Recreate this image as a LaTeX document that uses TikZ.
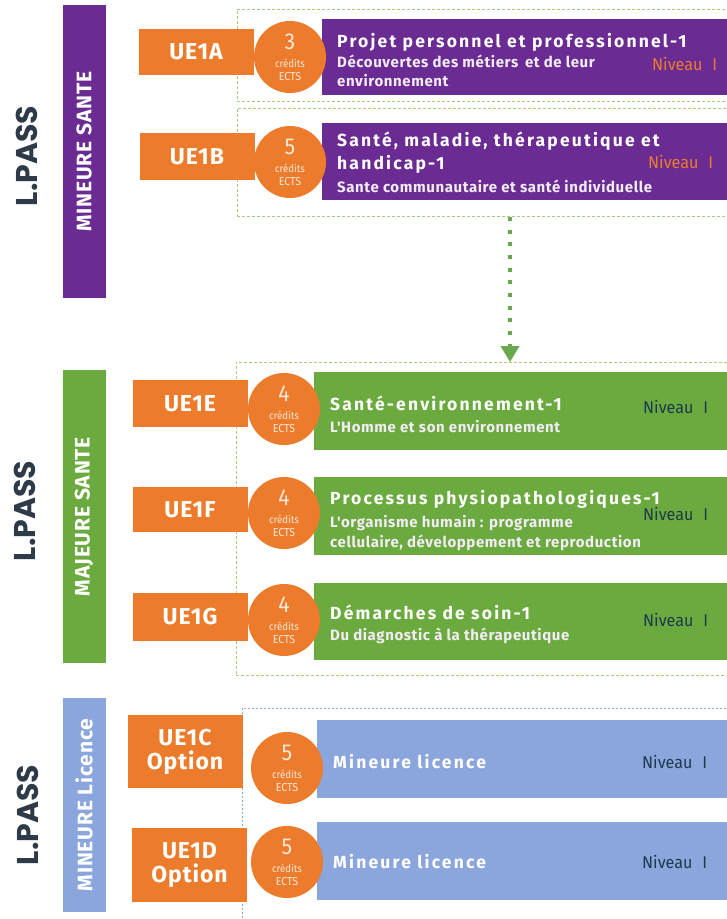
\documentclass[tikz,border=0pt]{standalone}
\usepackage{fontspec}
\setmainfont{Fira Sans}
\newfontfamily\lpfont{Poppins}
\newfontfamily\titfont[LetterSpace=12.5]{Fira Sans}
\newfontfamily\sbfont[LetterSpace=4]{Fira Sans}
\newfontfamily\subfont[LetterSpace=4]{Fira Sans}
\newfontfamily\nivfont[FakeStretch=0.95]{Fira Sans}
\newfontfamily\cndfont[FakeStretch=0.92]{Fira Sans}
\usetikzlibrary{arrows.meta}
\definecolor{cpurple}{HTML}{6A2B93}
\definecolor{cgreen}{HTML}{6BAA3E}
\definecolor{cblue}{HTML}{8AA6DC}
\definecolor{corange}{HTML}{EC7B2C}
\definecolor{clpass}{HTML}{2E3A48}
\definecolor{cdashg}{HTML}{A8CC7A}
\definecolor{cdashb}{HTML}{8AA6DC}
\definecolor{carrow}{HTML}{6AA84F}
\definecolor{cniv}{HTML}{1D3A4D}
\definecolor{ccred}{HTML}{FCE8D8}
\definecolor{csub}{HTML}{F3ECF6}
\newcommand{\credtxt}[1]{{\fontsize{23}{23}\selectfont #1}\\[6pt]{\fontsize{10.5}{11}\selectfont crédits}\\[1pt]{\fontsize{11.5}{12}\selectfont ECTS}}
\begin{document}
\begin{tikzpicture}[x=1pt,y=-1pt,
  sidebar/.style={rotate=90,minimum width=#1,minimum height=43,inner sep=0,text=white,font=\sbfont\bfseries\fontsize{21}{21}\selectfont},
  lpass/.style={rotate=90,text=clpass,font=\lpfont\bfseries\fontsize{30}{30}\selectfont},
  uebox/.style={fill=corange,minimum width=115,inner sep=0,text=white,align=center,font=\sbfont\bfseries\fontsize{23}{24}\selectfont},
  cred/.style={circle,fill=corange,minimum size=72,inner sep=0,align=center,text=ccred,font=\cndfont},
  mainbox/.style={anchor=north west,minimum width=420,inner sep=0},
  frame/.style={draw=cdashg,dash pattern=on 3pt off 2pt,line width=0.8pt},
  framb/.style={draw=cdashb,dash pattern=on 2pt off 2pt,line width=0.7pt},
  ttl/.style={anchor=base west,inner sep=0,text=white,font=\titfont\bfseries\fontsize{17.5}{17.5}\selectfont},
  sub/.style={anchor=base west,inner sep=0,text=csub,font=\subfont\bfseries\fontsize{15}{15}\selectfont},
  niv/.style={anchor=base west,inner sep=0,font=\nivfont\fontsize{17}{17}\selectfont},
  dotarrow/.style={draw=carrow,line width=4pt,dash pattern=on 4pt off 8.7pt,-{Triangle[width=18pt,length=16pt]}}
]
\fill[white] (0,0) rectangle (727,919);
\clip (0,0) rectangle (727,919);

% dashed frames
\node[frame,anchor=north west,minimum width=503,minimum height=92,inner sep=0] (f1) at (237,9) {};
\node[frame,anchor=north west,minimum width=503,minimum height=108,inner sep=0] (f2) at (237,108) {};
\node[frame,anchor=north west,minimum width=504,minimum height=313,inner sep=0] (f3) at (236,362) {};
\node[framb,anchor=north west,minimum width=498,minimum height=220,inner sep=0] (f4) at (242,708) {};

% arrow between blocks
\coordinate (ax) at (510,0);
\draw[dotarrow] (f2.south -| ax) -- (f3.north -| ax);

% left labels
\node[lpass] (lp1) at (27,156) {L.PASS};
\node[lpass] (lp2) at (25,511) {L.PASS};
\node[lpass] (lp3) at (28,815) {L.PASS};
\node[sidebar=293,fill=cpurple] (sb1) at (84,151.5) {MINEURE SANTE};
\node[sidebar=293,fill=cgreen] (sb2) at (84,516.5) {MAJEURE SANTE};
\node[sidebar=214,fill=cblue] (sb3) at (84,805) {MINEURE Licence};

% ===== Mineure santé =====
\node[mainbox,fill=cpurple,minimum height=76] (b1a) at (322,19) {};
\node[mainbox,fill=cpurple,minimum height=77] (b1b) at (322,123) {};
\node[uebox,minimum height=46] (u1a) at (196,52) {UE1A};
\node[uebox,minimum height=47] (u1b) at (197,156.5) {UE1B};
\node[cred] (c1a) at (290,57) {\credtxt{3}};
\node[cred] (c1b) at (290,162) {\credtxt{5}};
\node[ttl] (t1a) at (337,47) {Projet personnel et professionnel-1};
\node[sub] (s1a) at (337,67) {Découvertes des métiers\, et de leur};
\node[sub] (s1a2) at (337,86) {environnement};
\node[niv,text=corange] (n1a) at (652,70) {Niveau\,\, I};
\node[ttl] (t1b) at (337,146) {Santé, maladie, thérapeutique et};
\node[ttl] (t1b2) at (337,169) {handicap-1};
\node[sub] (s1b) at (337,192) {Sante communautaire et santé individuelle};
\node[niv,text=corange] (n1b) at (648,168) {Niveau\,\, I};

% ===== Majeure santé =====
\node[mainbox,fill=cgreen,minimum height=78] (b1e) at (314,372) {};
\node[mainbox,fill=cgreen,minimum height=78] (b1f) at (314,477) {};
\node[mainbox,fill=cgreen,minimum height=77] (b1g) at (314,583) {};
\node[uebox,minimum height=47] (u1e) at (190,403.5) {UE1E};
\node[uebox,minimum height=45] (u1f) at (190,509.5) {UE1F};
\node[uebox,minimum height=48] (u1g) at (190,617) {UE1G};
\node[cred] (c1e) at (284,409) {\credtxt{4}};
\node[cred] (c1f) at (284,513) {\credtxt{4}};
\node[cred] (c1g) at (284,620) {\credtxt{4}};
\node[ttl] (t1e) at (330,410) {Santé-environnement-1};
\node[sub] (s1e) at (330,432) {L'Homme et son environnement};
\node[niv,text=cniv] (n1e) at (643,413) {Niveau\,\, I};
\node[ttl] (t1f) at (330,504) {Processus physiopathologiques-1};
\node[sub] (s1f) at (330,527) {L'organisme humain : programme};
\node[sub] (s1f2) at (330,547) {cellulaire, développement et reproduction};
\node[niv,text=cniv] (n1f) at (643,520) {Niveau\,\, I};
\node[ttl] (t1g) at (330,619) {Démarches de soin-1};
\node[sub] (s1g) at (330,640) {Du diagnostic à la thérapeutique};
\node[niv,text=cniv] (n1g) at (643,626) {Niveau\,\, I};

% ===== Mineure licence =====
\node[mainbox,fill=cblue,minimum height=78] (b1c) at (317,720) {};
\node[mainbox,fill=cblue,minimum height=78] (b1d) at (317,822) {};
\node[uebox,minimum height=73] (u1c) at (185,751.5) {UE1C\\Option};
\node[uebox,minimum height=74] (u1d) at (189.5,865) {UE1D\\Option};
\node[cred] (c1c) at (287,768) {\credtxt{5}};
\node[cred] (c1d) at (287,862) {\credtxt{5}};
\node[ttl] (t1c) at (333,768) {Mineure licence};
\node[niv,text=cniv] (n1c) at (642,768) {Niveau\,\, I};
\node[ttl] (t1d) at (333,868) {Mineure licence};
\node[niv,text=cniv] (n1d) at (642,868) {Niveau\,\, I};
\end{tikzpicture}
\end{document}
